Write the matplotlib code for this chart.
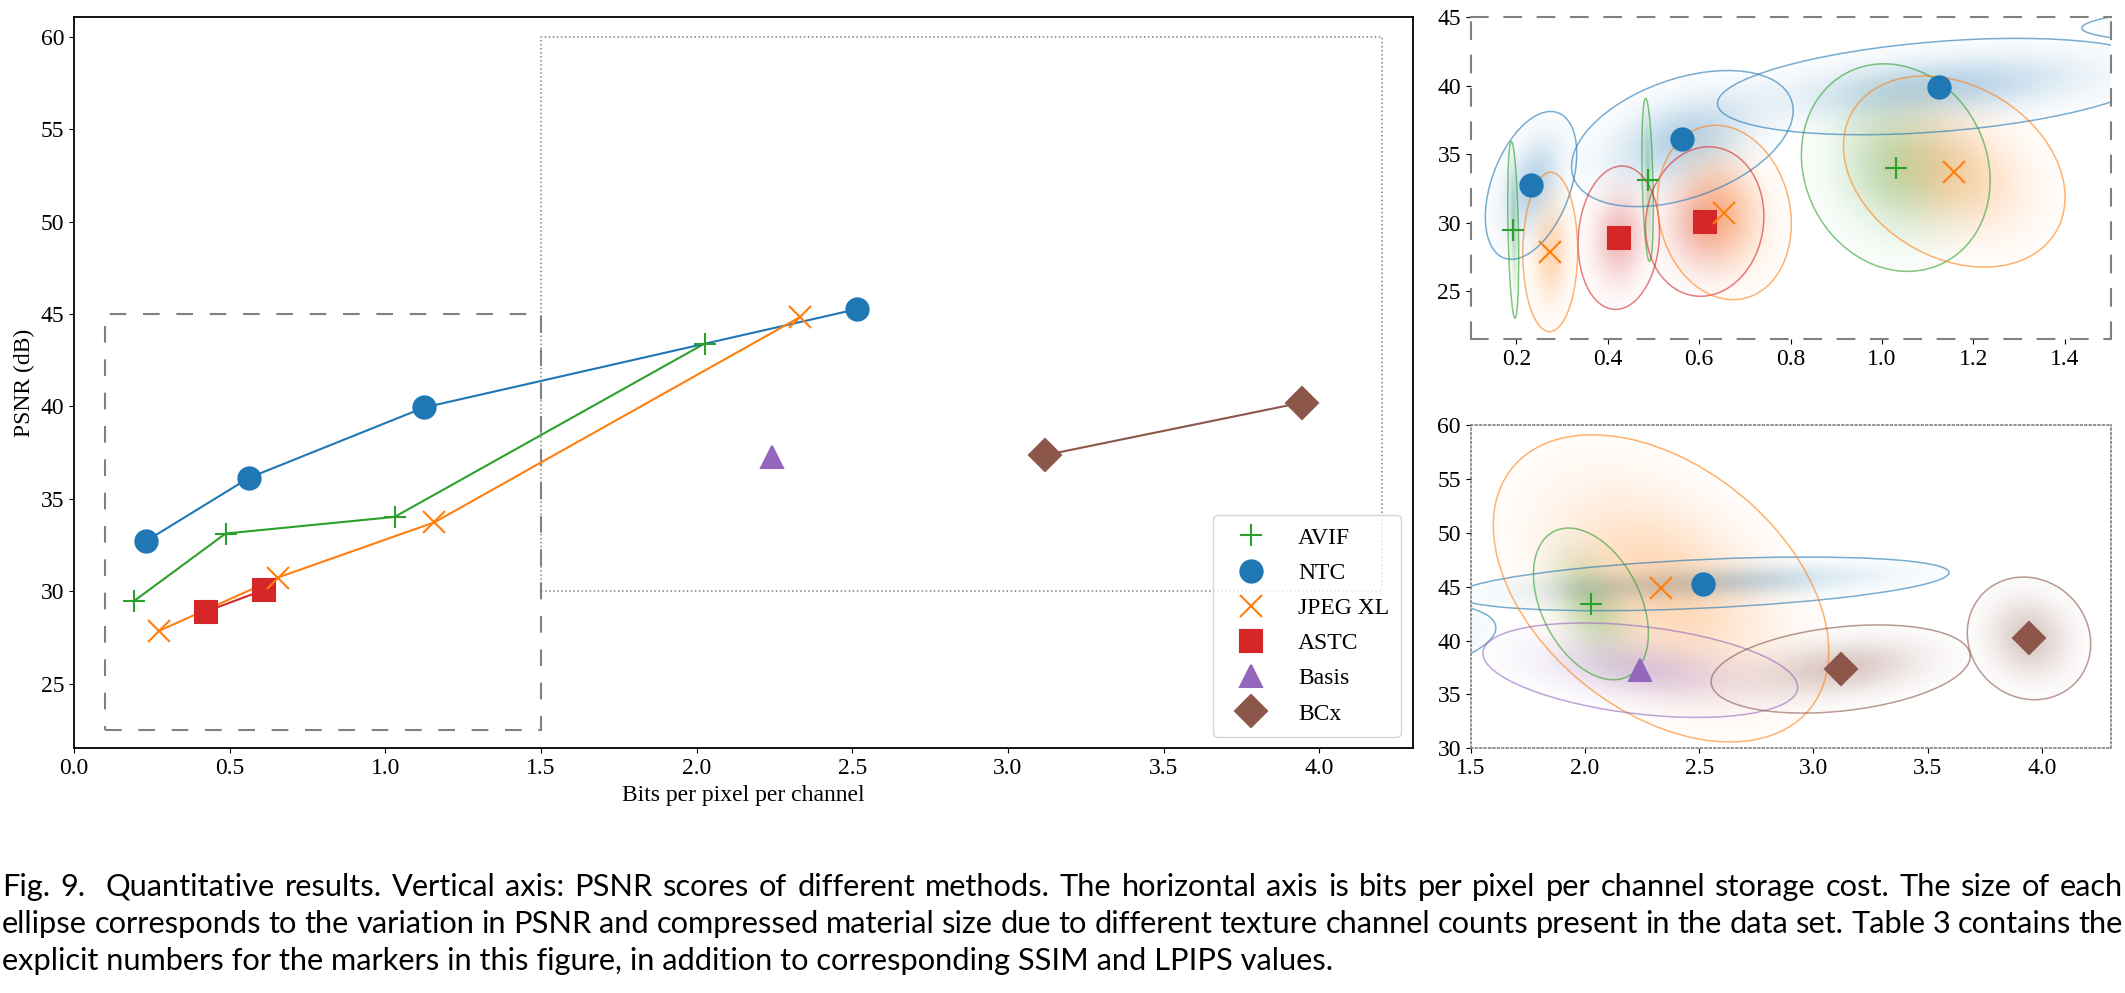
import matplotlib.pyplot as plt
import numpy as np
from matplotlib.colors import to_rgb
from matplotlib.lines import Line2D
from matplotlib.patches import Ellipse, Rectangle
from matplotlib.transforms import Affine2D

plt.rcParams["font.family"] = ["Liberation Serif", "DejaVu Serif"]
plt.rcParams["font.size"] = 17

# marker positions: bits per pixel per channel, PSNR (dB)
avif_bpp = [0.193, 0.487, 1.03, 2.026]
avif_psnr = [29.47, 33.12, 34.02, 43.40]
ntc_bpp = [0.232, 0.563, 1.125, 2.515]
ntc_psnr = [32.72, 36.14, 39.94, 45.26]
jxl_bpp = [0.274, 0.655, 1.158, 2.333]
jxl_psnr = [27.86, 30.74, 33.73, 44.84]
astc_bpp = [0.424, 0.612]
astc_psnr = [28.90, 30.08]
basis_bpp = [2.242]
basis_psnr = [37.25]
bcx_bpp = [3.119, 3.943]
bcx_psnr = [37.36, 40.20]

# ellipse half extents along bpp / psnr and their correlation, one per marker
avif_sx = [0.012, 0.0125, 0.2065, 0.2515]
avif_sy = [6.45, 5.95, 7.58, 7.04]
avif_rho = [-0.33, -0.34, -0.125, -0.39]
ntc_sx = [0.10, 0.2425, 0.485, 1.078]
ntc_sy = [5.4, 4.97, 3.52, 2.49]
ntc_rho = [0.43, 0.41, 0.35, 0.42]
jxl_sx = [0.06, 0.1465, 0.2425, 0.734]
jxl_sy = [5.82, 6.37, 6.98, 14.25]
jxl_rho = [0.02, -0.13, -0.27, -0.41]
astc_sx = [0.089, 0.1295]
astc_sy = [5.24, 5.46]
astc_rho = [0.08, 0.07]
basis_sx = [0.689]
basis_sy = [4.38]
basis_rho = [-0.36]
bcx_sx = [0.567, 0.27]
bcx_sy = [4.09, 5.69]
bcx_rho = [0.29, -0.09]

legend_order = ["AVIF", "NTC", "JPEG XL", "ASTC", "Basis", "BCx"]
draw_order = ["AVIF", "NTC", "ASTC", "JPEG XL", "Basis", "BCx"]

series = {
    "AVIF": (avif_bpp, avif_psnr, avif_sx, avif_sy, avif_rho, "tab:green", "+"),
    "NTC": (ntc_bpp, ntc_psnr, ntc_sx, ntc_sy, ntc_rho, "tab:blue", "o"),
    "JPEG XL": (jxl_bpp, jxl_psnr, jxl_sx, jxl_sy, jxl_rho, "tab:orange", "x"),
    "ASTC": (astc_bpp, astc_psnr, astc_sx, astc_sy, astc_rho, "tab:red", "s"),
    "Basis": (basis_bpp, basis_psnr, basis_sx, basis_sy, basis_rho, "tab:purple", "^"),
    "BCx": (bcx_bpp, bcx_psnr, bcx_sx, bcx_sy, bcx_rho, "tab:brown", "D"),
}

caption_lines = [
    "Fig. 9.  Quantitative results. Vertical axis: PSNR scores of different methods. "
    "The horizontal axis is bits per pixel per channel storage cost. The size of each",
    "ellipse corresponds to the variation in PSNR and compressed material size due to "
    "different texture channel counts present in the data set. Table 3 contains the",
    "explicit numbers for the markers in this figure, in addition to corresponding SSIM "
    "and LPIPS values.",
]

MS = 16
MEW = 1.5
CAPTION_FONT = "Lato"


def draw_markers(ax: plt.Axes, with_lines: bool) -> None:
    for name in draw_order:
        bpp, psnr, _, _, _, color, marker = series[name]
        if with_lines:
            ax.plot(bpp, psnr, color=color, lw=1.5, zorder=3)
        ax.plot(bpp, psnr, ls="none", marker=marker, color=color,
                ms=MS, mew=MEW, zorder=4)


def draw_ellipses(ax: plt.Axes, xlim: tuple, ylim: tuple) -> None:
    gx, gy = np.meshgrid(np.linspace(*xlim, 700), np.linspace(*ylim, 450))
    for name in draw_order:
        bpp, psnr, sxs, sys_, rhos, color, _ = series[name]
        for cx, cy, sx, sy, rho in zip(bpp, psnr, sxs, sys_, rhos):
            u = (gx - cx) / sx
            v = (gy - cy) / sy
            r2 = (u * u - 2 * rho * u * v + v * v) / (1 - rho * rho)
            rgba = np.zeros(gx.shape + (4,))
            rgba[..., :3] = to_rgb(color)
            rgba[..., 3] = np.where(r2 < 1, 0.32 * np.exp(-2.8 * r2), 0.0)
            ax.imshow(rgba, extent=(*xlim, *ylim), origin="lower",
                      aspect="auto", interpolation="bilinear", zorder=1)
            ell = Ellipse((0, 0), 2 * np.sqrt(1 + rho), 2 * np.sqrt(1 - rho),
                          fc="none", ec=color, alpha=0.6, lw=1.1, zorder=2)
            ell.set_transform(Affine2D().rotate_deg(45).scale(sx, sy)
                              .translate(cx, cy) + ax.transData)
            ax.add_patch(ell)
    ax.set_xlim(*xlim)
    ax.set_ylim(*ylim)


def style_spines(ax: plt.Axes, ls, lw: float) -> None:
    for spine in ax.spines.values():
        spine.set_linestyle(ls)
        spine.set_edgecolor("#808080")
        spine.set_linewidth(lw)


def fit_caption_size(fig: plt.Figure, text: str, target: float) -> float:
    renderer = fig.canvas.get_renderer()
    t = fig.text(0, 0, text, fontsize=20, family=CAPTION_FONT)
    w = t.get_window_extent(renderer).width / fig.bbox.width
    t.remove()
    return 20 * target / w


def caption_line(fig: plt.Figure, text: str, y: float, size: float,
                 justify: bool) -> None:
    renderer = fig.canvas.get_renderer()
    x0, x1 = 0.001, 0.999
    if not justify:
        fig.text(x0, y, text, fontsize=size, family=CAPTION_FONT, va="baseline")
        return
    words, weights = [], []
    extra = 0.0
    for part in text.split(" "):
        if part == "":
            extra += 1.0
            continue
        if words:
            weights.append(1.0 + extra)
        extra = 0.0
        words.append(part)
    texts = [fig.text(0, y, w, fontsize=size, family=CAPTION_FONT, va="baseline")
             for w in words]
    widths = [t.get_window_extent(renderer).width / fig.bbox.width for t in texts]
    unit = (x1 - x0 - sum(widths)) / sum(weights)
    x = x0
    for i, t in enumerate(texts):
        t.set_x(x)
        if i < len(weights):
            x += widths[i] + unit * weights[i]


fig = plt.figure(figsize=(21.25, 9.93), dpi=100)
ax = fig.add_axes([0.0348, 0.2464, 0.6300, 0.7362])
ax_top = fig.add_axes([0.6921, 0.6586, 0.3011, 0.3240])
ax_bot = fig.add_axes([0.6921, 0.2464, 0.3011, 0.3256])

# main panel
draw_markers(ax, with_lines=True)
ax.add_patch(Rectangle((0.1, 22.5), 1.4, 22.5, fill=False, ec="#808080",
                       lw=1.5, ls=(0, (8, 8)), zorder=1))
ax.add_patch(Rectangle((1.5, 30), 2.7, 30, fill=False, ec="#808080",
                       lw=1.1, ls=":", zorder=1))
ax.set_xlim(0, 4.3)
ax.set_ylim(21.5, 61.05)
ax.set_xticks(np.arange(0, 4.01, 0.5))
ax.set_yticks(np.arange(25, 61, 5))
ax.set_xlabel("Bits per pixel per channel")
ax.set_ylabel("PSNR (dB)")
for spine in ax.spines.values():
    spine.set_linewidth(1.3)
handles = [Line2D([], [], ls="none", marker=series[n][6], color=series[n][5],
                  ms=MS, mew=MEW, label=n) for n in legend_order]
ax.legend(handles=handles, loc="lower right", fontsize=17, labelspacing=0.58,
          handlelength=2.2, handletextpad=0.9, borderpad=0.5)

# low bitrate zoom
draw_ellipses(ax_top, (0.1, 1.5), (21.5, 45))
draw_markers(ax_top, with_lines=False)
ax_top.set_xticks(np.arange(0.2, 1.41, 0.2))
ax_top.set_yticks(np.arange(25, 46, 5))
style_spines(ax_top, (0, (8, 8)), 1.5)

# high bitrate zoom
draw_ellipses(ax_bot, (1.5, 4.3), (30, 60))
draw_markers(ax_bot, with_lines=False)
ax_bot.set_xticks(np.arange(1.5, 4.01, 0.5))
ax_bot.set_yticks(np.arange(30, 61, 5))
style_spines(ax_bot, ":", 1.2)

cap_size = fit_caption_size(fig, caption_lines[0], 0.975)
cap_y = [0.0977, 0.0605, 0.0232]
for i, line in enumerate(caption_lines):
    caption_line(fig, line, cap_y[i], cap_size, justify=i < 2)

fig.savefig("out.png", dpi=100)
plt.close(fig)
